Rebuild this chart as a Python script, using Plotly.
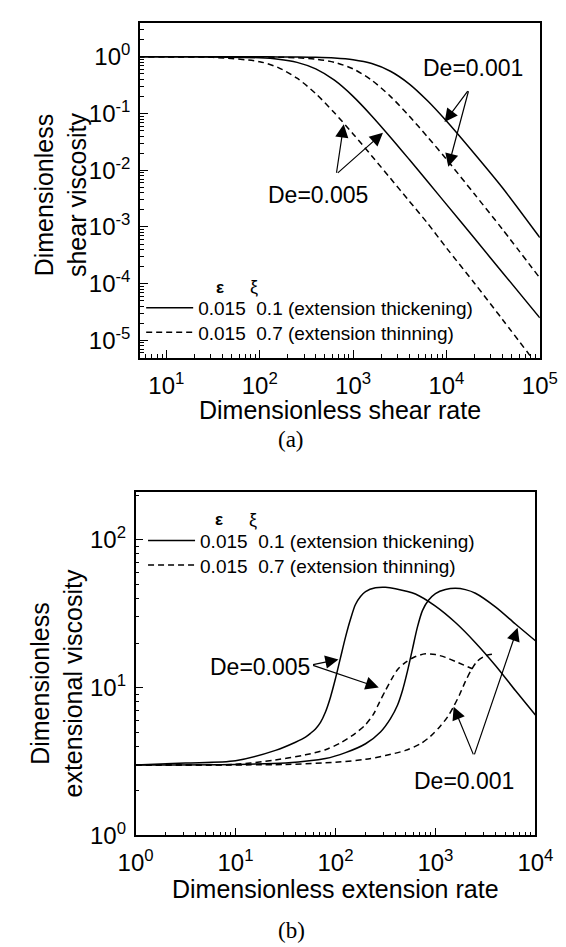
import plotly.graph_objects as go

# ---------------- Panel (a): shear viscosity ----------------
shear_rate = [5, 10, 31.6, 100, 158, 251, 398, 631, 1000, 1585, 2512, 3981, 6310, 10000, 19953, 39811, 100000]
shear_visc_thick_De0001 = [1, 1, 1, 1, 0.997, 0.992, 0.980, 0.952, 0.888, 0.760, 0.557, 0.334, 0.166, 0.0736, 0.0195, 0.0049, 6.5e-4]
shear_visc_thin_De0001 = [1, 1, 1, 0.994, 0.984, 0.962, 0.909, 0.799, 0.613, 0.387, 0.201, 0.0909, 0.0383, 0.0156, 0.0038, 9.1e-4, 1.26e-4]
shear_visc_thick_De0005 = [1, 1, 0.996, 0.962, 0.909, 0.799, 0.613, 0.387, 0.201, 0.0909, 0.0383, 0.0156, 0.00626, 0.0025, 6.3e-4, 1.58e-4, 2.5e-5]
shear_visc_thin_De0005 = [1, 0.998, 0.978, 0.821, 0.646, 0.42, 0.224, 0.103, 0.0437, 0.0179, 0.0072, 0.00288, 0.00115, 4.27e-4, 1.02e-4, 2.34e-5, 3.2e-6]

shear_xtick_vals = [10, 100, 1000, 10000, 100000]
shear_xtick_text = ['10<sup>1</sup>', '10<sup>2</sup>', '10<sup>3</sup>', '10<sup>4</sup>', '10<sup>5</sup>']
shear_ytick_vals = [1e-5, 1e-4, 1e-3, 1e-2, 1e-1, 1]
shear_ytick_text = ['10<sup>-5</sup>', '10<sup>-4</sup>', '10<sup>-3</sup>', '10<sup>-2</sup>', '10<sup>-1</sup>', '10<sup>0</sup>']

# ---------------- Panel (b): extensional viscosity ----------------
ext_rate_thick_De0005 = [1, 3.16, 10, 25.1, 39.8, 50.1, 56.2, 63.1, 70.8, 79.4, 89.1, 100, 112, 126, 141, 158, 178, 200,
                         251, 316, 398, 631, 1000, 1585, 2512, 3981, 6310, 10000]
ext_visc_thick_De0005 = [3.0, 3.09, 3.2, 3.76, 4.27, 4.62, 4.90, 5.25, 5.82, 6.84, 8.61, 11.5, 15.8, 21.9, 28.8, 36.3, 41.2, 44.5,
                         47.2, 47.6, 46.6, 42.9, 35.5, 27.5, 20.1, 14.1, 9.55, 6.53]
ext_rate_thick_De0001 = [1, 10, 31.6, 79.4, 126, 200, 282, 355, 417, 468, 525, 589, 661, 741, 851, 1000,
                         1259, 1585, 1995, 2512, 3981, 6310, 10000]
ext_visc_thick_De0001 = [3.0, 3.02, 3.09, 3.31, 3.63, 4.17, 5.01, 6.17, 7.59, 9.55, 12.9, 18.2, 25.7, 33.1, 38.9, 43.2,
                         46.0, 46.9, 45.9, 43.4, 35.1, 26.9, 20.7]
ext_rate_thin_De0005 = [1, 10, 25.1, 50.1, 79.4, 112, 158, 200, 240, 275, 316, 363, 417, 501, 631, 794, 1000, 1259, 1585, 2344]
ext_visc_thin_De0005 = [3.0, 3.03, 3.24, 3.51, 3.80, 4.22, 4.90, 5.62, 6.61, 7.94, 9.55, 11.35, 13.2, 14.8, 16.2, 16.9, 16.7, 16.0, 15.0, 13.4]
ext_rate_thin_De0001 = [1, 31.6, 100, 200, 316, 501, 708, 891, 1122, 1318, 1514, 1738, 1995, 2291, 2630, 3162, 3981]
ext_visc_thin_De0001 = [3.0, 3.02, 3.13, 3.27, 3.47, 3.76, 4.17, 4.68, 5.50, 6.31, 7.41, 8.91, 11.0, 13.2, 15.1, 16.4, 16.9]

ext_xtick_vals = [1, 10, 100, 1000, 10000]
ext_xtick_text = ['10<sup>0</sup>', '10<sup>1</sup>', '10<sup>2</sup>', '10<sup>3</sup>', '10<sup>4</sup>']
ext_ytick_vals = [1, 10, 100]
ext_ytick_text = ['10<sup>0</sup>', '10<sup>1</sup>', '10<sup>2</sup>']

legend_thick = '0.015\u00a0\u00a00.1 (extension thickening)'
legend_thin = '0.015\u00a0\u00a00.7 (extension thinning)'

# ---------------- layout helpers ----------------
W, H = 566, 947
FONT = 'Liberation Sans, Arial, sans-serif'


def px(x):
    return x / W


def py(y):
    return 1 - y / H


def minor_vals(lo, hi):
    vals = []
    for e in range(lo, hi):
        for m in range(2, 10):
            vals.append(m * 10 ** e)
    return vals


fig = go.Figure()

LW = 1.5
DASH = '6px,4px'


def add(x, y, xa, ya, dash, name=None, legend='legend', show=False):
    fig.add_trace(go.Scatter(
        x=x, y=y, mode='lines', xaxis=xa, yaxis=ya,
        line=dict(color='black', width=LW, dash=dash, shape='spline', smoothing=0.8),
        name=name, showlegend=show, legend=legend, hoverinfo='skip'))


add(shear_rate, shear_visc_thick_De0001, 'x', 'y', 'solid', legend_thick, 'legend', True)
add(shear_rate, shear_visc_thin_De0001, 'x', 'y', DASH, legend_thin, 'legend2', True)
add(shear_rate, shear_visc_thick_De0005, 'x', 'y', 'solid')
add(shear_rate, shear_visc_thin_De0005, 'x', 'y', DASH)

add(ext_rate_thick_De0005, ext_visc_thick_De0005, 'x2', 'y2', 'solid', legend_thick, 'legend3', True)
add(ext_rate_thin_De0005, ext_visc_thin_De0005, 'x2', 'y2', DASH, legend_thin, 'legend4', True)
add(ext_rate_thick_De0001, ext_visc_thick_De0001, 'x2', 'y2', 'solid')
add(ext_rate_thin_De0001, ext_visc_thin_De0001, 'x2', 'y2', DASH)

axis_common = dict(
    type='log', showgrid=False, zeroline=False, showline=True, linecolor='black',
    linewidth=1.5, mirror=True, ticks='inside', ticklen=8, tickwidth=1.2,
    tickcolor='black', tickmode='array',
    tickfont=dict(family=FONT, size=24, color='black'),
)
minor_common = dict(ticks='inside', ticklen=4, tickwidth=1, tickcolor='black')


def leg(xpix, ypix):
    return dict(x=px(xpix), y=py(ypix), xanchor='left', yanchor='middle', bgcolor='rgba(0,0,0,0)',
                font=dict(family=FONT, size=19, color='black'), itemwidth=47, borderwidth=0)


fig.update_layout(
    width=W, height=H, margin=dict(l=0, r=0, t=0, b=0),
    paper_bgcolor='white', plot_bgcolor='white',
    xaxis=dict(axis_common, domain=[px(121.7), px(548.7)], range=[0.717, 5],
               tickvals=shear_xtick_vals, ticktext=shear_xtick_text, anchor='y',
               ticklabelstandoff=5, minor=dict(minor_common, tickvals=minor_vals(0, 5))),
    yaxis=dict(axis_common, domain=[py(355), py(15.7)], range=[-5.313, 0.588],
               tickvals=shear_ytick_vals, ticktext=shear_ytick_text, anchor='x',
               ticklabelstandoff=3, minor=dict(minor_common, tickvals=minor_vals(-6, 1))),
    xaxis2=dict(axis_common, domain=[px(117), px(544)], range=[0, 4],
                tickvals=ext_xtick_vals, ticktext=ext_xtick_text, anchor='y2',
                ticklabelstandoff=5, minor=dict(minor_common, tickvals=minor_vals(0, 4))),
    yaxis2=dict(axis_common, domain=[py(839), py(491)], range=[0, 2.32],
                tickvals=ext_ytick_vals, ticktext=ext_ytick_text, anchor='x2',
                ticklabelstandoff=3, minor=dict(minor_common, tickvals=minor_vals(0, 3))),
    legend=leg(123, 304),
    legend2=leg(123, 329),
    legend3=leg(125, 540),
    legend4=leg(125, 565),
    showlegend=True,
)

ann = []


def text(x, y, s, size=23, xref='paper', yref='paper', angle=0, family=FONT):
    ann.append(dict(x=x, y=y, xref=xref, yref=yref, text=s, showarrow=False,
                    font=dict(family=family, size=size, color='black'),
                    textangle=angle, xanchor='center', yanchor='middle'))


def arrow(hx, hy, tx, ty, xr, yr):
    ann.append(dict(x=hx, y=hy, ax=tx, ay=ty, xref=xr, yref=yr, axref=xr, ayref=yr,
                    text='', showarrow=True, arrowhead=2, arrowsize=2.2, arrowwidth=1.2,
                    arrowcolor='black', standoff=0, startstandoff=0))


# panel (a) annotations
text(4.28, -0.20, 'De=0.001', xref='x', yref='y')
arrow(3.98, -1.15, 4.24, -0.58, 'x', 'y')
arrow(4.02, -1.94, 4.24, -0.58, 'x', 'y')
text(2.62, -2.44, 'De=0.005', xref='x', yref='y')
arrow(2.90, -1.19, 2.82, -2.07, 'x', 'y')
arrow(3.32, -1.34, 2.82, -2.07, 'x', 'y')

# panel (b) annotations
text(1.246, 1.138, 'De=0.005', xref='x2', yref='y2')
arrow(2.03, 1.19, 1.761, 1.153, 'x2', 'y2')
arrow(2.433, 1.0, 1.761, 1.153, 'x2', 'y2')
text(3.29, 0.371, 'De=0.001', xref='x2', yref='y2')
arrow(3.182, 0.871, 3.385, 0.538, 'x2', 'y2')
arrow(3.822, 1.404, 3.385, 0.538, 'x2', 'y2')

# legend headers
text(px(207), py(283), '<b>ε</b>', size=17)
text(px(244), py(283), 'ξ', size=18)
text(px(206), py(519), '<b>ε</b>', size=17)
text(px(242), py(519), 'ξ', size=18)

# axis titles
text(px(37), py(190), 'Dimensionless<br>shear viscosity', size=25, angle=-90)
text(px(335), py(408), 'Dimensionless shear rate', size=25)
text(px(33), py(685), 'Dimensionless<br>extensional viscosity', size=25, angle=-90)
text(px(330), py(893), 'Dimensionless extension rate', size=25)

# panel labels
text(px(283), py(438), '(a)', size=23, family='Liberation Serif, Times New Roman, serif')
text(px(283), py(935), '(b)', size=23, family='Liberation Serif, Times New Roman, serif')

fig.update_layout(annotations=ann)

fig.write_html('out.html')
